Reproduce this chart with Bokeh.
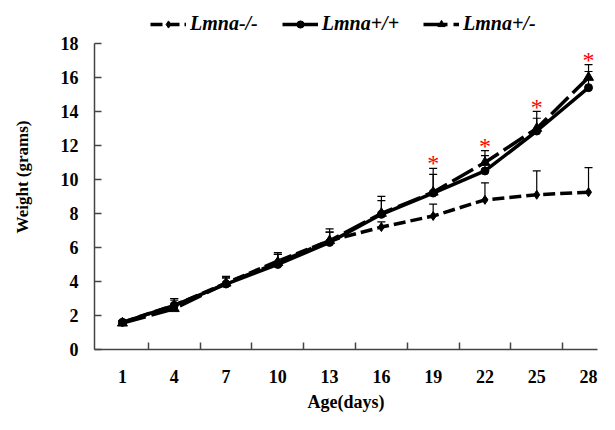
from bokeh.plotting import figure
from bokeh.models import (FixedTicker, Whisker, TeeHead, ColumnDataSource, Legend,
                          LegendItem, Range1d)
from bokeh.core.properties import value
from bokeh.embed import file_html
from bokeh.resources import INLINE

# ---- data ----
days = [1, 4, 7, 10, 13, 16, 19, 22, 25, 28]
ko = [1.6, 2.6, 3.9, 5.2, 6.4, 7.2, 7.85, 8.8, 9.1, 9.25]          # Lmna-/-
ko_err = [0.1, 0.3, 0.3, 0.4, 0.5, 0.3, 0.7, 1.0, 1.4, 1.45]
wt = [1.6, 2.6, 3.85, 5.0, 6.3, 7.95, 9.2, 10.5, 12.85, 15.4]      # Lmna+/+
wt_err = [0.1, 0.4, 0.4, 0.6, 0.6, 0.8, 1.1, 0.9, 0.75, 0.95]
het = [1.55, 2.4, 3.9, 5.1, 6.4, 8.0, 9.25, 11.0, 13.0, 16.0]      # Lmna+/-
het_err = [0.1, 0.6, 0.4, 0.6, 0.7, 1.0, 1.4, 0.7, 1.0, 0.75]
star_days = [19, 22, 25, 28]
star_y = [11.3, 12.3, 14.6, 17.4]
y_ticks = [0, 2, 4, 6, 8, 10, 12, 14, 16, 18]
labels = ["Lmna-/-", "Lmna+/+", "Lmna+/-"]

FONT = "Liberation Serif"

p = figure(width=599, height=414, output_backend="svg", toolbar_location=None,
           x_range=Range1d(-0.62, 28.52), y_range=Range1d(0, 20.29),
           min_border_left=94, min_border_right=2, min_border_top=4,
           min_border_bottom=64)
p.outline_line_color = None
p.xgrid.visible = False
p.ygrid.visible = False

# series
r_ko = p.line(days, ko, line_dash="12 5", line_width=3.5, color="black")
m_ko = p.scatter(days, ko, marker="diamond", size=9, color="black")
r_wt = p.line(days, wt, line_width=3.5, color="black")
m_wt = p.scatter(days, wt, marker="circle", size=8, color="black")
r_het = p.line(days, het, line_dash="24 6", line_width=3.5, color="black")
m_het = p.scatter(days, het, marker="triangle", size=10, color="black")

for vals, errs in ((ko, ko_err), (wt, wt_err), (het, het_err)):
    src = ColumnDataSource(dict(x=days, y=vals, upper=[v + e for v, e in zip(vals, errs)]))
    w = Whisker(base="x", lower="y", upper="upper", source=src,
                upper_head=TeeHead(size=8, line_width=1.2, line_color="black"),
                lower_head=None, line_width=1.2, line_color="black")
    p.add_layout(w)

p.text(x=star_days, y=star_y, text=["*"] * len(star_days), text_color="red",
       text_font=value(FONT), text_font_size="24px", text_align="center",
       text_baseline="middle", y_offset=6)

# axes
p.xaxis.ticker = FixedTicker(ticks=days,
                             minor_ticks=[2.5, 5.5, 8.5, 11.5, 14.5, 17.5, 20.5, 23.5, 26.5])
p.xaxis.minor_tick_in = 7
p.xaxis.minor_tick_out = 0
p.xaxis.minor_tick_line_color = "#444444"
p.xaxis.minor_tick_line_width = 1.5
p.yaxis.ticker = FixedTicker(ticks=y_ticks)
p.yaxis.bounds = (0, 18)
p.yaxis.major_tick_in = 7
p.yaxis.major_tick_out = 0
p.yaxis.minor_tick_line_color = None
for ax in (p.xaxis, p.yaxis):
    ax.axis_line_color = "#444444"
    ax.axis_line_width = 1.5
    ax.major_tick_line_width = 1.5
    ax.major_label_text_font = FONT
    ax.major_label_text_font_style = "bold"
    ax.major_label_text_font_size = "18px"
    ax.major_label_text_color = "black"
    ax.axis_label_text_font = FONT
    ax.axis_label_text_font_style = "bold"
    ax.axis_label_text_color = "black"
p.xaxis.major_tick_line_color = None
p.yaxis.major_tick_line_color = "#444444"
p.xaxis.axis_label = "Age(days)"
p.xaxis.axis_label_text_font_size = "18px"
p.xaxis.major_label_standoff = 14
p.xaxis.axis_label_standoff = 6
p.yaxis.axis_label = "Weight (grams)"
p.yaxis.axis_label_text_font_size = "17px"
p.yaxis.major_label_standoff = 16
p.yaxis.axis_label_standoff = 26

legend = Legend(items=[LegendItem(label=labels[0], renderers=[r_ko, m_ko]),
                       LegendItem(label=labels[1], renderers=[r_wt, m_wt]),
                       LegendItem(label=labels[2], renderers=[r_het, m_het])],
                orientation="horizontal", location=(56, 314),
                label_text_font=FONT, label_text_font_style="bold italic",
                label_text_font_size="20px", label_text_color="black",
                glyph_width=36, glyph_height=18,
                label_standoff=4, spacing=24, padding=0, margin=0,
                border_line_color=None, background_fill_alpha=0)
p.add_layout(legend, "center")

open("out.html", "w").write(file_html(p, INLINE))
